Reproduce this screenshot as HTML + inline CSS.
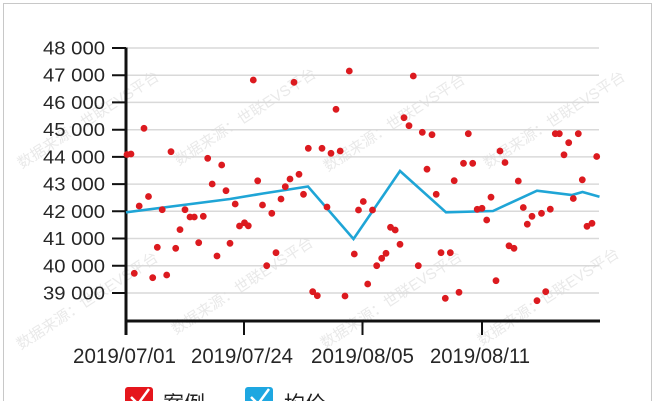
<!DOCTYPE html>
<html>
<head>
<meta charset="utf-8">
<style>
html,body{margin:0;padding:0;background:#fff;}
body{width:656px;height:401px;overflow:hidden;}
svg{display:block;}
text{font-family:"Liberation Sans","Noto Sans CJK SC",sans-serif;}
.wm{fill:#cfcfcf;opacity:.45;font-size:15px;text-anchor:middle;}
.yl{fill:#262626;font-size:18px;text-anchor:end;}
.xl{fill:#262626;font-size:21px;}
</style>
</head>
<body>
<svg width="656" height="401" viewBox="0 0 656 401" xmlns="http://www.w3.org/2000/svg">
<rect width="656" height="401" fill="#fff"/>
<path d="M3.5,401V3.5H651.5V401" fill="none" stroke="#c8c8c8"/>
<text class="wm" transform="translate(91,124) rotate(-33)">数据来源：世联EVS平台</text>
<text class="wm" transform="translate(248,121) rotate(-33)">数据来源：世联EVS平台</text>
<text class="wm" transform="translate(397,127) rotate(-33)">数据来源：世联EVS平台</text>
<text class="wm" transform="translate(557,124) rotate(-33)">数据来源：世联EVS平台</text>
<text class="wm" transform="translate(90,305) rotate(-33)">数据来源：世联EVS平台</text>
<text class="wm" transform="translate(245,290) rotate(-33)">数据来源：世联EVS平台</text>
<text class="wm" transform="translate(394,304) rotate(-33)">数据来源：世联EVS平台</text>
<text class="wm" transform="translate(551,301) rotate(-33)">数据来源：世联EVS平台</text>
<path stroke="#d9d9d9" stroke-width="1.5" fill="none" d="M127 48H599M127 75.2H599M127 102.4H599M127 129.7H599M127 156.9H599M127 184.1H599M127 211.3H599M127 238.5H599M127 265.8H599M127 293H599"/>
<path stroke="#111" stroke-width="3" fill="none" d="M126 47.5V335M124.5 321H600"/>
<path stroke="#111" stroke-width="2" fill="none" d="M112 48h14M112 75.2h14M112 102.4h14M112 129.7h14M112 156.9h14M112 184.1h14M112 211.3h14M112 238.5h14M112 265.8h14M112 293h14M244 321v14M362.5 321v14M482 321v14"/>
<text class="yl" x="105" y="54.5" textLength="62" lengthAdjust="spacingAndGlyphs">48 000</text>
<text class="yl" x="105" y="81.7" textLength="62" lengthAdjust="spacingAndGlyphs">47 000</text>
<text class="yl" x="105" y="108.9" textLength="62" lengthAdjust="spacingAndGlyphs">46 000</text>
<text class="yl" x="105" y="136.2" textLength="62" lengthAdjust="spacingAndGlyphs">45 000</text>
<text class="yl" x="105" y="163.4" textLength="62" lengthAdjust="spacingAndGlyphs">44 000</text>
<text class="yl" x="105" y="190.6" textLength="62" lengthAdjust="spacingAndGlyphs">43 000</text>
<text class="yl" x="105" y="217.8" textLength="62" lengthAdjust="spacingAndGlyphs">42 000</text>
<text class="yl" x="105" y="245" textLength="62" lengthAdjust="spacingAndGlyphs">41 000</text>
<text class="yl" x="105" y="272.3" textLength="62" lengthAdjust="spacingAndGlyphs">40 000</text>
<text class="yl" x="105" y="299.5" textLength="62" lengthAdjust="spacingAndGlyphs">39 000</text>
<text class="xl" x="73" y="363" textLength="103" lengthAdjust="spacingAndGlyphs">2019/07/01</text>
<text class="xl" x="191" y="363" textLength="102" lengthAdjust="spacingAndGlyphs">2019/07/24</text>
<text class="xl" x="311" y="363" textLength="103" lengthAdjust="spacingAndGlyphs">2019/08/05</text>
<text class="xl" x="430" y="363" textLength="100" lengthAdjust="spacingAndGlyphs">2019/08/11</text>
<polyline fill="none" stroke="#1fa5d6" stroke-width="2.6" points="126,212.3 230,199 263,193.5 308,186.5 353.5,239 400,171 446,212.3 493,211 537,190.7 572,195 582.5,192 599.5,196.7"/>
<path fill="none" stroke="#dc1a1f" stroke-width="6.8" stroke-linecap="round" d="M127 154.5h0M131 154h0M144 128.3h0M148.5 196.5h0M139.2 206h0M134.3 273.3h0M157.3 247.3h0M162.2 209.7h0M152.7 277.7h0M166.7 275h0M171 151.7h0M175.7 248.3h0M180 229.6h0M185 209.7h0M190 217h0M194.3 217h0M203.3 216.3h0M198.7 242.7h0M207.7 158.3h0M212.2 184h0M217 256h0M221.7 165h0M226 190.7h0M230 243.3h0M235.2 204h0M239.5 226h0M244.5 222.8h0M248.3 225.8h0M253.3 80h0M257.7 180.8h0M262.5 205h0M266.7 265.7h0M271.8 213.3h0M276 252.7h0M281 199h0M285.3 186.7h0M290 179h0M294 82.3h0M299 174.3h0M303.5 194.3h0M308.3 148.3h0M312.7 291.7h0M317.3 295.7h0M322 148.3h0M327 207h0M331 153.3h0M336 109.3h0M340.2 151h0M345 296h0M349.3 71h0M354.3 254h0M358.5 210h0M363.3 201.5h0M367.7 284h0M372.5 210h0M376.7 265.7h0M381.7 258.3h0M386 253.3h0M390.5 227.3h0M395.2 230h0M400 244.3h0M404 117.7h0M409 125.7h0M413.3 76h0M418.3 265.7h0M422.3 132.3h0M427 169.2h0M432 134.7h0M436.2 194.3h0M441 252.7h0M445.3 298.3h0M450.3 252.7h0M454.2 180.7h0M459 292.3h0M463.5 163.3h0M468.3 133.7h0M472.7 163.3h0M477.2 209.3h0M482 208.3h0M486.7 220h0M491 197.2h0M496 280.7h0M500 151h0M505 162.5h0M509 245.8h0M514 248.3h0M518.3 181h0M523.3 207.5h0M527.3 224.2h0M532 216.3h0M537 300.7h0M541.5 213.3h0M545.7 291.7h0M550.3 209.2h0M555.3 133.7h0M559.3 133.7h0M564 154.8h0M568.7 142.7h0M573.3 198.5h0M578.3 133.7h0M582.3 179.8h0M587 226.3h0M592 223.3h0M596.7 156.5h0"/>
<svg x="0" y="380" width="656" height="21" viewBox="0 380 656 21" overflow="hidden">
<rect x="125" y="387" width="28" height="28" rx="3" fill="#e5161c"/>
<path d="M131 397l7 7 11-15" fill="none" stroke="#fff" stroke-width="2.5"/>
<text x="163" y="411" font-size="21" fill="#222">案例</text>
<rect x="245" y="387" width="28" height="28" rx="3" fill="#1ea7e1"/>
<path d="M251 397l7 7 11-15" fill="none" stroke="#fff" stroke-width="2.5"/>
<text x="284" y="411" font-size="21" fill="#222">均价</text>
</svg>
</svg>
</body>
</html>
